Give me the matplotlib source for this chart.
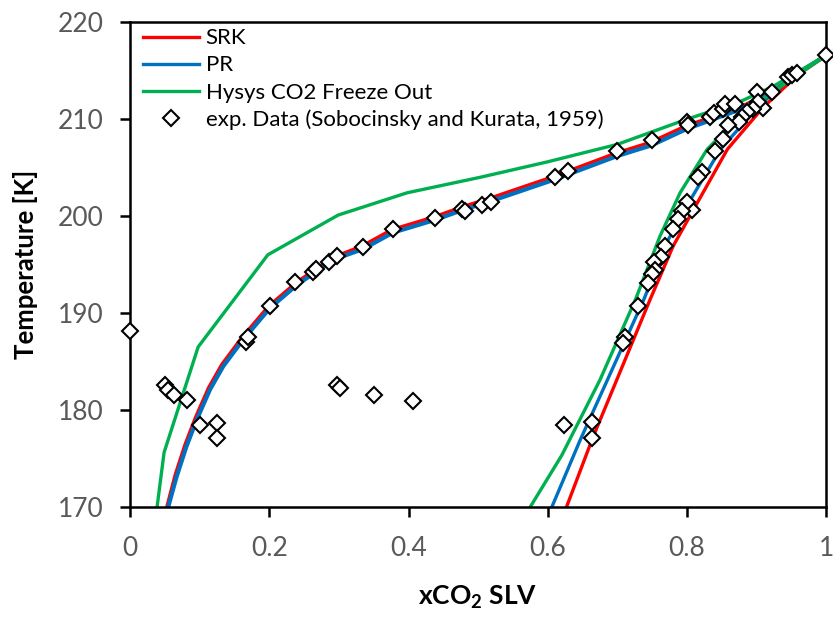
import matplotlib
matplotlib.use("Agg")
import matplotlib.pyplot as plt
from matplotlib.lines import Line2D

plt.rcParams['font.family'] = ['Lato', 'DejaVu Sans']
plt.rcParams['mathtext.fontset'] = 'custom'
plt.rcParams['mathtext.bf'] = 'Lato:bold'
plt.rcParams['mathtext.rm'] = 'Lato'

# SRK model (red)
srk_liq_x = [0.053, 0.065, 0.079, 0.094, 0.113, 0.132, 0.160, 0.199, 0.238, 0.290, 0.333, 0.376, 0.436, 0.479, 0.515, 0.609, 0.698, 0.747, 0.798, 0.875, 0.923, 0.948, 1.0]
srk_liq_T = [170.0, 173.3, 176.4, 179.2, 182.3, 184.7, 187.4, 190.7, 193.1, 195.7, 196.9, 198.6, 199.9, 201.0, 201.8, 204.1, 206.5, 207.6, 209.3, 211.2, 212.9, 214.2, 216.6]
srk_sol_x = [0.627, 0.665, 0.747, 0.780, 0.815, 0.858, 0.909, 0.958, 1.0]
srk_sol_T = [170.0, 177.2, 191.4, 196.9, 201.4, 206.9, 211.2, 214.5, 216.6]

# PR model (blue)
pr_liq_x = [0.055, 0.067, 0.081, 0.096, 0.115, 0.134, 0.162, 0.201, 0.240, 0.292, 0.335, 0.378, 0.438, 0.481, 0.517, 0.611, 0.700, 0.749, 0.800, 0.876, 0.924, 0.948, 1.0]
pr_liq_T = [170.0, 173.1, 176.2, 179.0, 182.1, 184.5, 187.2, 190.5, 192.9, 195.5, 196.6, 198.3, 199.6, 200.7, 201.5, 203.8, 206.2, 207.3, 209.0, 211.0, 212.8, 214.2, 216.6]
pr_sol_x = [0.606, 0.646, 0.738, 0.771, 0.805, 0.848, 0.905, 0.955, 1.0]
pr_sol_T = [170.0, 176.8, 191.4, 197.3, 201.7, 206.9, 211.5, 214.6, 216.6]

# Hysys CO2 Freeze Out (green)
hy_liq_x = [0.039, 0.049, 0.098, 0.198, 0.299, 0.398, 0.503, 0.600, 0.700, 0.800, 0.876, 0.924, 1.0]
hy_liq_T = [170.0, 175.6, 186.5, 196.0, 200.1, 202.4, 204.0, 205.6, 207.4, 210.0, 211.8, 213.4, 216.6]
hy_sol_x = [0.575, 0.620, 0.675, 0.726, 0.761, 0.790, 0.829, 0.876, 0.915, 1.0]
hy_sol_T = [170.0, 175.3, 183.1, 191.4, 197.9, 202.4, 206.9, 210.3, 212.4, 216.6]

# Experimental data (Sobocinsky and Kurata, 1959)
exp_x = [0.0, 0.050, 0.055, 0.063, 0.082, 0.100, 0.125, 0.125, 0.167, 0.170,
         0.201, 0.237, 0.263, 0.267, 0.286, 0.297, 0.335, 0.378, 0.438, 0.477,
         0.481, 0.505, 0.518, 0.611, 0.629, 0.700, 0.749, 0.800, 0.802, 0.833,
         0.838, 0.851, 0.855, 0.869, 0.901, 0.922, 0.945, 0.951, 0.958, 1.0,
         0.909, 0.902, 0.894, 0.886, 0.879, 0.874, 0.859, 0.852, 0.840, 0.822,
         0.816, 0.807, 0.800, 0.793, 0.787, 0.780, 0.769, 0.763, 0.752, 0.754,
         0.750, 0.744, 0.730, 0.711, 0.708, 0.664, 0.664, 0.623,
         0.297, 0.302, 0.351, 0.407]
exp_T = [188.1, 182.6, 182.0, 181.5, 181.0, 178.4, 178.6, 177.1, 187.0, 187.5,
         190.7, 193.2, 194.2, 194.5, 195.3, 195.9, 196.8, 198.7, 199.8, 200.7,
         200.5, 201.1, 201.4, 204.0, 204.6, 206.7, 207.8, 209.7, 209.4, 210.2,
         210.6, 211.0, 211.6, 211.6, 212.8, 212.8, 214.4, 214.6, 214.8, 216.6,
         211.2, 211.8, 211.0, 210.7, 210.2, 209.7, 209.4, 207.9, 206.7, 204.5,
         204.0, 200.6, 201.4, 200.5, 199.7, 198.7, 196.9, 195.8, 195.3, 194.4,
         194.0, 193.1, 190.7, 187.5, 186.9, 178.7, 177.1, 178.4,
         182.6, 182.3, 181.5, 180.9]

x_ticks = [0, 0.2, 0.4, 0.6, 0.8, 1]
x_ticklabels = ['0', '0.2', '0.4', '0.6', '0.8', '1']
y_ticks = [170, 180, 190, 200, 210, 220]

RED = '#FF0000'
BLUE = '#0070C0'
GREEN = '#00B050'

fig = plt.figure(figsize=(8.33, 6.18), dpi=100)
ax = fig.add_axes([0.156, 0.180, 0.836, 0.784])

lw = 2.4
ax.plot(srk_liq_x, srk_liq_T, color=RED, lw=lw, zorder=1.8, solid_joinstyle='round')
ax.plot(srk_sol_x, srk_sol_T, color=RED, lw=lw, zorder=2, solid_joinstyle='round')
ax.plot(pr_liq_x, pr_liq_T, color=BLUE, lw=lw + 0.6, zorder=1.9, solid_joinstyle='round')
ax.plot(pr_sol_x, pr_sol_T, color=BLUE, lw=lw, zorder=2.1, solid_joinstyle='round')
ax.plot(hy_liq_x, hy_liq_T, color=GREEN, lw=lw, zorder=2.2)
ax.plot(hy_sol_x, hy_sol_T, color=GREEN, lw=lw, zorder=2.2)
ax.plot(exp_x, exp_T, linestyle='none', marker='D', markersize=8.5,
        markerfacecolor='white', markeredgecolor='black', markeredgewidth=1.5,
        clip_on=False, zorder=3)

ax.set_xlim(0, 1)
ax.set_ylim(170, 220)
ax.set_xticks(x_ticks)
ax.set_xticklabels(x_ticklabels)
ax.set_yticks(y_ticks)
for s in ax.spines.values():
    s.set_linewidth(1.8)
    s.set_color('black')
ax.tick_params(axis='both', direction='out', length=7, width=1.8, color='black',
               labelsize=19, labelcolor='#595959')
ax.tick_params(axis='y', pad=12)
ax.tick_params(axis='x', pad=14)

ax.set_xlabel('xCO$_\\mathbf{2}$ SLV', fontsize=19, fontweight='bold', labelpad=16)
ax.set_ylabel('Temperature [K]', fontsize=18.5, fontweight='bold', labelpad=14)

handles = [
    Line2D([], [], color=RED, lw=lw),
    Line2D([], [], color=BLUE, lw=lw),
    Line2D([], [], color=GREEN, lw=lw),
    Line2D([], [], linestyle='none', marker='D', markersize=8.5,
           markerfacecolor='white', markeredgecolor='black', markeredgewidth=1.5),
]
labels = ['SRK', 'PR', 'Hysys CO2 Freeze Out', 'exp. Data (Sobocinsky and Kurata, 1959)']
leg = ax.legend(handles, labels, loc='upper left', frameon=False, fontsize=16,
                handlelength=2.5, handletextpad=0.3, labelspacing=0.32,
                borderaxespad=0.2, bbox_to_anchor=(0.0, 1.015))

fig.savefig('out.png', dpi=100)
